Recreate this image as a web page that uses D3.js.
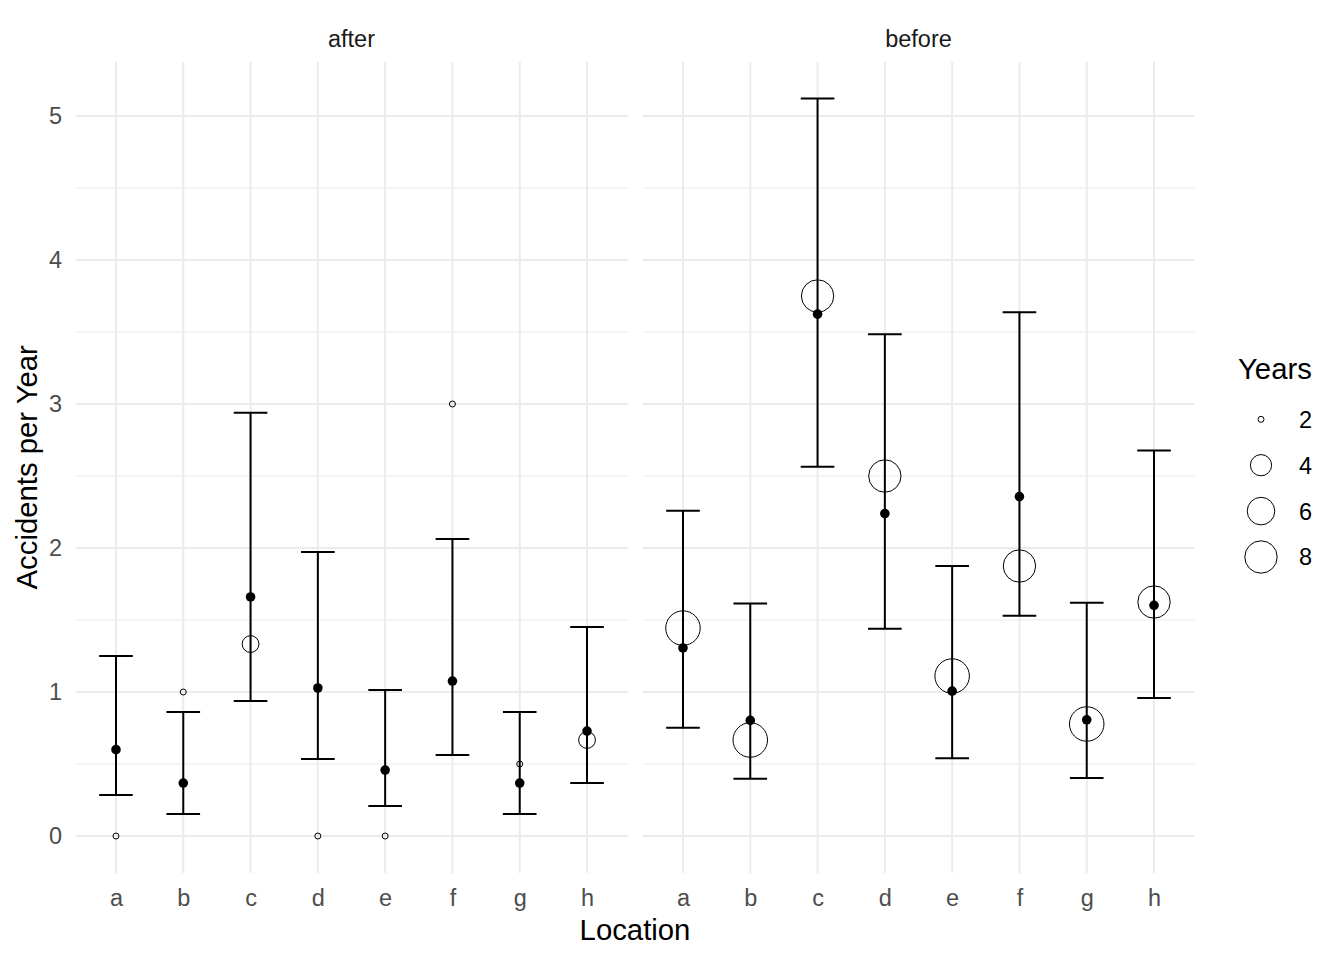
<!DOCTYPE html>
<html>
<head>
<meta charset="utf-8">
<style>
    body { margin: 0; background: #fff; }
    svg { display: block; font-family: "Liberation Sans", Arial, sans-serif; }
</style>
</head>
<body>
<svg width="1344" height="960"></svg>

<script src="https://d3js.org/d3.v7.min.js"></script>
<script>
//------------------------ DATA ------------------------//
let locations = ["a", "b", "c", "d", "e", "f", "g", "h"]
let periods = ["after", "before"]

// raw rate (open circles) and years observed (circle size)
let afterRate = [0, 1, 1.333, 0, 0, 3, 0.5, 0.667]
let afterYears = [2, 2, 3, 2, 2, 2, 2, 3]
let beforeRate = [1.444, 0.667, 3.75, 2.5, 1.111, 1.875, 0.778, 1.625]
let beforeYears = [9, 9, 8, 8, 9, 8, 9, 8]

// model estimate with interval (filled point + error bar)
let afterEst = [0.60, 0.368, 1.66, 1.028, 0.458, 1.076, 0.368, 0.729]
let afterLow = [0.285, 0.153, 0.9375, 0.535, 0.208, 0.5625, 0.153, 0.368]
let afterHigh = [1.25, 0.861, 2.94, 1.972, 1.014, 2.0625, 0.861, 1.451]
let beforeEst = [1.306, 0.803, 3.624, 2.239, 1.006, 2.357, 0.807, 1.602]
let beforeLow = [0.752, 0.398, 2.564, 1.439, 0.540, 1.530, 0.403, 0.959]
let beforeHigh = [2.258, 1.615, 5.121, 3.484, 1.875, 3.637, 1.620, 2.677]

let yTicks = [0, 1, 2, 3, 4, 5]
let yMinor = [0.5, 1.5, 2.5, 3.5, 4.5]
let legendYears = [2, 4, 6, 8]

let rows = []
locations.forEach(function(loc, i){
    rows.push({period: "after", loc: loc, rate: afterRate[i], years: afterYears[i],
               est: afterEst[i], low: afterLow[i], high: afterHigh[i]})
    rows.push({period: "before", loc: loc, rate: beforeRate[i], years: beforeYears[i],
               est: beforeEst[i], low: beforeLow[i], high: beforeHigh[i]})
})

//------------------------ LAYOUT ------------------------//
let svg = d3.select("svg")
let panelTop = 61.7, panelBottom = 872.9
let panelX = {after: [75.6, 627.4], before: [642.6, 1194.4]}
let gridCol = "#EBEBEB"
let fontSmall = 23.5, fontBig = 29.3

let y = d3.scaleLinear().domain([-0.256, 5.377]).range([panelBottom, panelTop])

// years -> radius (area-style like ggplot scale_size)
let sizeNorm = d3.scaleLinear().domain([2, 9]).range([0, 1])
let rScale = d3.scaleSqrt().domain([0, 1]).range([3, 17.25])

periods.forEach(function(p){
    let x = d3.scalePoint().domain(locations).range(panelX[p]).padding(0.6)
    let g = svg.append("g")

    // minor grid
    g.selectAll(".minor").data(yMinor).join("line")
        .attr("x1", panelX[p][0]).attr("x2", panelX[p][1])
        .attr("y1", d => y(d)).attr("y2", d => y(d))
        .attr("stroke", gridCol).attr("stroke-width", 1)

    // major grid
    g.selectAll(".major").data(yTicks).join("line")
        .attr("x1", panelX[p][0]).attr("x2", panelX[p][1])
        .attr("y1", d => y(d)).attr("y2", d => y(d))
        .attr("stroke", gridCol).attr("stroke-width", 2)

    g.selectAll(".vgrid").data(locations).join("line")
        .attr("x1", d => x(d)).attr("x2", d => x(d))
        .attr("y1", panelTop).attr("y2", panelBottom)
        .attr("stroke", gridCol).attr("stroke-width", 2)

    // x axis labels
    let xAxis = d3.axisBottom(x).tickSize(0).tickPadding(0)
    g.append("g")
        .attr("transform", `translate(0,${panelBottom + 33})`)
        .call(xAxis)
        .call(a => a.select(".domain").remove())
        .call(a => a.selectAll("text")
            .attr("dy", 0)
            .attr("font-size", fontSmall)
            .attr("font-family", "Liberation Sans, Arial, sans-serif")
            .attr("fill", "#4D4D4D"))

    // strip label
    svg.append("text")
        .attr("x", (panelX[p][0] + panelX[p][1]) / 2)
        .attr("y", 47)
        .attr("text-anchor", "middle")
        .attr("font-size", fontSmall)
        .attr("fill", "#1A1A1A")
        .text(p)

    let data = rows.filter(d => d.period == p)

    // open circles: raw rate sized by years
    g.selectAll(".raw").data(data).join("circle")
        .attr("cx", d => x(d.loc))
        .attr("cy", d => y(d.rate))
        .attr("r", d => rScale(sizeNorm(d.years)))
        .attr("fill", "none")
        .attr("stroke", "black")
        .attr("stroke-width", 1)

    // error bars
    let bar = g.selectAll(".bar").data(data).join("g")
    let capHalf = x.step() * 0.25
    bar.append("line")
        .attr("x1", d => x(d.loc)).attr("x2", d => x(d.loc))
        .attr("y1", d => y(d.low)).attr("y2", d => y(d.high))
    bar.append("line")
        .attr("x1", d => x(d.loc) - capHalf).attr("x2", d => x(d.loc) + capHalf)
        .attr("y1", d => y(d.high)).attr("y2", d => y(d.high))
    bar.append("line")
        .attr("x1", d => x(d.loc) - capHalf).attr("x2", d => x(d.loc) + capHalf)
        .attr("y1", d => y(d.low)).attr("y2", d => y(d.low))
    bar.selectAll("line").attr("stroke", "black").attr("stroke-width", 2)

    // estimate points
    g.selectAll(".est").data(data).join("circle")
        .attr("cx", d => x(d.loc))
        .attr("cy", d => y(d.est))
        .attr("r", 4.8)
        .attr("fill", "black")
})

// y axis labels
let yAxis = d3.axisLeft(y).tickValues(yTicks).tickFormat(d3.format("d")).tickSize(0).tickPadding(0)
svg.append("g")
    .attr("transform", "translate(62,0)")
    .call(yAxis)
    .call(a => a.select(".domain").remove())
    .call(a => a.selectAll("text")
        .attr("font-size", fontSmall)
        .attr("font-family", "Liberation Sans, Arial, sans-serif")
        .attr("fill", "#4D4D4D"))

// axis titles
svg.append("text")
    .attr("x", (panelX.after[0] + panelX.before[1]) / 2)
    .attr("y", 940)
    .attr("text-anchor", "middle")
    .attr("font-size", fontBig)
    .attr("fill", "black")
    .text("Location")

svg.append("text")
    .attr("transform", `translate(37,${(panelTop + panelBottom) / 2}) rotate(-90)`)
    .attr("text-anchor", "middle")
    .attr("font-size", fontBig)
    .attr("fill", "black")
    .text("Accidents per Year")

//------------------------ LEGEND ------------------------//
let legend = svg.append("g")
legend.append("text")
    .attr("x", 1238).attr("y", 379)
    .attr("font-size", fontBig)
    .attr("fill", "black")
    .text("Years")

let keyY = d3.scalePoint().domain(legendYears).range([419.3, 557]).padding(0)
let keys = legend.selectAll(".key").data(legendYears).join("g")
keys.append("circle")
    .attr("cx", 1261)
    .attr("cy", d => keyY(d))
    .attr("r", d => rScale(sizeNorm(d)))
    .attr("fill", "none")
    .attr("stroke", "black")
    .attr("stroke-width", 1)
keys.append("text")
    .attr("x", 1299)
    .attr("y", d => keyY(d))
    .attr("dy", "0.36em")
    .attr("font-size", fontSmall)
    .attr("fill", "black")
    .text(d => d)
</script>
</body>
</html>
